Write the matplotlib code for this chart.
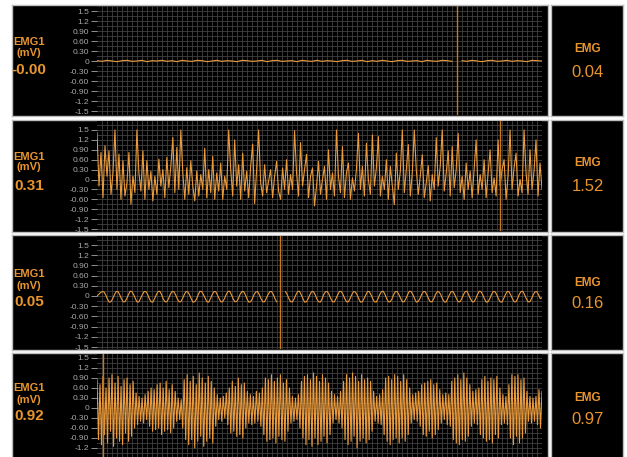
import numpy as np
import matplotlib
matplotlib.use("Agg")
import matplotlib.pyplot as plt

# ---------------------------------------------------------------- data
tick_values = [1.5, 1.2, 0.9, 0.6, 0.3, 0.0, -0.3, -0.6, -0.9, -1.2, -1.5]
tick_labels = ["1.5", "1.2", "0.90", "0.60", "0.30", "0",
               "-0.30", "-0.60", "-0.90", "-1.2", "-1.5"]

channel_label = "EMG1"
unit_label = "(mV)"
readouts = ["-0.00", "0.31", "0.05", "0.92"]
side_title = "EMG"
side_values = ["0.04", "1.52", "0.16", "0.97"]

sweep_seconds = 8.9                      # visible sweep length
cursor_times = [7.2, 8.06, 3.66, 0.12]   # sweep write position per channel

nan = float("nan")

# channel 1: resting, almost flat
trace1 = [0.01, -0.01, 0.02, 0.0, -0.02, 0.01, 0.02, -0.01, 0.0, 0.02,
          -0.02, 0.01, 0.0, 0.02, -0.01, 0.01, -0.02, 0.02, 0.0, -0.01,
          0.02, 0.01, -0.02, 0.0, 0.02, -0.01, 0.01, 0.0, -0.02, 0.02,
          0.01, -0.01, 0.0, 0.02, -0.02, 0.01, 0.02, -0.01, 0.0, 0.01,
          -0.02, 0.02, 0.0, -0.01, 0.02, -0.01, 0.01, 0.0, -0.02, 0.01,
          0.02, -0.01, 0.0, 0.02, -0.02, 0.01, -0.01, 0.02, 0.0, -0.02,
          0.01, 0.02, -0.01, 0.0, 0.01, -0.02, 0.02, 0.0, -0.01, 0.02,
          0.01, -0.01, nan, 0.01, -0.01, 0.02, 0.0, -0.02, 0.01, 0.02,
          -0.01, 0.0, 0.02, -0.01, 0.01, 0.0, -0.02, 0.02, 0.01, 0.0]

# channel 2: irregular spiking activity
trace2 = [1.42, -0.2, 0.82, -0.55, 1.02, 0.1, 0.87, -0.45, 0.2, 1.5,
          -0.3, 0.77, -0.6, 0.57, -0.5, -0.1, 0.82, -0.75, 0.1, -0.4,
          1.5, 0.2, -0.35, 0.87, -0.6, 0.57, -0.3, 0.25, -0.65, 0.1,
          -0.45, 0.62, -0.2, 0.3, -0.55, 0.67, -0.25, 0.4, 1.27, -0.4,
          0.97, -0.3, 1.5, 0.2, -0.6, 0.36, -0.45, 0.57, -0.2, -0.65,
          0.26, -0.5, 0.15, -0.3, 0.95, -0.55, 0.3, -0.4, 0.7, -0.6,
          0.2, -0.35, 0.5, -0.6, 0.1, -0.3, 1.5, 0.3, -0.5, 1.2,
          -0.2, 0.45, -0.6, 0.8, -0.35, 0.25, -0.55, 0.4, 1.07, -0.73,
          0.3, 1.5, -0.1, -0.5, 0.45, -0.4, -0.05, 0.3, -0.55, 0.1,
          0.55, -0.35, -0.6, 0.35, -0.3, 0.6, -0.45, 0.15, -0.3, 1.48,
          0.2, -0.5, 1.12, -0.2, 0.3, 0.76, -0.55, 0.1, 0.35, -0.8,
          -0.2, 0.55, -0.45, 0.0, 0.4, -0.6, 0.9, -0.3, 0.2, -0.5,
          1.5, 0.1, -0.4, 1.0, -0.55, 0.2, 0.5, -0.6, 0.05, -0.35,
          0.3, 1.4, -0.3, 0.4, -0.5, 1.1, 0.0, -0.45, 1.35, -0.2,
          0.35, 1.3, -0.5, 0.1, -0.3, 0.6, -0.6, 0.4, -0.2, -0.76,
          0.8, -0.3, 0.25, 1.5, -0.4, 0.3, 1.06, -0.5, 0.2, 1.5,
          0.3, -0.45, 0.1, 0.75, -0.55, -0.1, 0.42, -0.65, 0.15, -0.3,
          1.27, -0.2, 0.4, 1.5, -0.35, 0.2, 0.87, -0.5, 1.0, -0.25,
          0.3, 1.4, -0.4, 0.1, -0.6, 0.5, -0.3, 0.25, -0.55, 0.35,
          1.2, -0.45, 0.15, -0.3, 0.6, -0.55, 0.2, 0.9, -0.4, 0.05,
          -0.5, 1.2, -0.2, 0.3, 0.6, -0.6, 0.1, 1.5, -0.3, 0.35,
          0.8, -0.5, 0.0, -0.4, 1.5, 0.2, -0.45, 0.9, -0.3, 0.25,
          1.2, -0.5, 0.5, -0.3]

# channel 3: low-amplitude periodic interference
trace3 = [0.0, 0.05, 0.10, 0.13, 0.12, 0.03, -0.09, -0.18,
          -0.17, -0.08, 0.04, 0.13, 0.13, 0.04, -0.08, -0.17,
          -0.17, -0.08, 0.04, 0.14, 0.13, 0.04, -0.08, -0.18,
          -0.17, -0.07, 0.04, 0.13, 0.13, 0.05, -0.08, -0.17,
          -0.18, -0.08, 0.04, 0.13, 0.14, 0.04, -0.09, -0.17,
          -0.17, -0.08, 0.05, 0.13, 0.13, 0.04, -0.08, -0.17,
          -0.17, -0.08, 0.04, 0.13, 0.12, 0.04, -0.08, -0.18,
          -0.17, -0.09, 0.04, 0.14, 0.13, 0.04, -0.07, -0.17,
          -0.18, -0.08, 0.04, 0.13, 0.13, 0.03, -0.08, -0.17,
          -0.17, -0.08, 0.04, 0.13, 0.14, 0.04, -0.08, -0.17,
          -0.16, -0.08, 0.05, 0.13, 0.13, 0.04, -0.09, -0.18,
          -0.17, -0.08, 0.04, 0.12, 0.13, 0.04, -0.08, -0.17,
          -0.17, -0.07, 0.04, 0.13, 0.13, 0.05, -0.08, -0.17,
          nan, nan, nan, nan, 0.13, 0.04, -0.08, -0.17,
          -0.17, -0.08, 0.04, 0.13, 0.14, 0.04, -0.08, -0.18,
          -0.17, -0.08, 0.04, 0.13, 0.13, 0.04, -0.09, -0.17,
          -0.18, -0.08, 0.05, 0.13, 0.13, 0.04, -0.08, -0.17,
          -0.17, -0.07, 0.04, 0.14, 0.13, 0.04, -0.08, -0.17,
          -0.17, -0.08, 0.04, 0.13, 0.12, 0.04, -0.08, -0.18,
          -0.17, -0.08, 0.03, 0.13, 0.13, 0.04, -0.08, -0.17,
          -0.18, -0.08, 0.04, 0.13, 0.14, 0.05, -0.08, -0.17,
          -0.17, -0.09, 0.04, 0.13, 0.13, 0.04, -0.07, -0.17,
          -0.17, -0.08, 0.04, 0.14, 0.13, 0.04, -0.08, -0.18,
          -0.16, -0.08, 0.04, 0.13, 0.13, 0.04, -0.08, -0.17,
          -0.17, -0.08, 0.05, 0.13, 0.12, 0.04, -0.09, -0.17,
          -0.18, -0.07, 0.04, 0.13, 0.13, 0.04, -0.08, -0.17,
          -0.17, -0.08, 0.04, 0.13, 0.14, 0.03, -0.08, -0.17,
          -0.17, -0.08, 0.04, 0.14, 0.13, 0.04, -0.08, -0.18,
          -0.17, -0.09, 0.04, 0.13, 0.13, 0.05, -0.08, -0.17,
          -0.18, -0.08, 0.04, 0.13, 0.13, 0.04, -0.07, -0.17,
          -0.17, -0.08, 0.05, 0.13, 0.14, 0.04, -0.08, -0.17,
          -0.17, -0.08, 0.04, 0.12, 0.13, 0.04, -0.08, -0.05]

# channel 4: strong contraction bursts
trace4 = [0.85, -0.95, 0.7, -1.1, 0.95, -0.8, 0.6, -1.05, 0.9, -0.7,
          1.0, -1.15, 0.75, -0.9, 0.95, -1.0, 0.65, -1.1, 0.85, -0.75,
          0.9, -1.0, 0.7, -0.85, 0.8, -0.6, 0.45, -0.5, 0.35, -0.4,
          0.3, -0.45, 0.4, -0.35, 0.5, -0.55, 0.6, -0.7, 0.55, -0.65,
          0.7, -0.6, 0.75, -0.8, 0.6, -0.7, 0.8, -0.65, 0.55, -0.75,
          0.7, -0.6, 0.5, -0.4, 0.3, -0.35, 0.25, -0.6, 0.85, -0.95,
          1.0, -1.1, 0.8, -0.95, 0.95, -1.2, 0.7, -1.0, 1.05, -0.85,
          0.9, -1.15, 0.75, -1.0, 0.95, -0.9, 0.8, -1.05, 0.6, -0.55,
          0.4, -0.35, 0.3, -0.4, 0.35, -0.3, 0.45, -0.5, 0.6, -0.75,
          0.8, -0.7, 0.65, -0.85, 0.9, -0.8, 0.7, -0.9, 0.75, -0.6,
          0.5, -0.45, 0.4, -0.5, 0.35, -0.45, 0.5, -0.4, 0.45, -0.55,
          0.6, -0.8, 0.9, -1.0, 0.85, -0.95, 1.0, -0.9, 0.8, -1.05,
          0.9, -0.85, 1.0, -0.95, 0.75, -1.0, 0.85, -0.7, 0.6, -0.45,
          0.35, -0.4, 0.3, -0.35, 0.4, -0.6, 0.8, -0.9, 0.95, -1.1,
          1.0, -0.95, 0.85, -1.15, 1.05, -0.9, 0.95, -1.1, 0.8, -1.0,
          1.0, -0.85, 0.9, -1.05, 0.75, -0.8, 0.5, -0.45, 0.4, -0.35,
          0.35, -0.45, 0.5, -0.6, 0.8, -0.95, 1.0, -1.1, 0.9, -1.0,
          1.05, -0.85, 0.95, -1.2, 0.8, -1.0, 1.0, -0.9, 0.85, -1.05,
          0.9, -0.95, 0.8, -0.7, 0.5, -0.4, 0.35, -0.45, 0.4, -0.5,
          0.55, -0.8, 0.9, -1.0, 0.95, -1.1, 0.85, -0.95, 1.0, -0.9,
          0.95, -1.05, 0.8, -0.9, 1.0, -1.0, 0.85, -0.8, 0.6, -0.45,
          0.4, -0.35, 0.45, -0.4, 0.5, -0.55, 0.7, -0.8, 0.75, -0.85,
          0.8, -0.7, 0.85, -0.9, 0.7, -0.8, 0.75, -0.65, 0.55, -0.45,
          0.4, -0.35, 0.45, -0.5, 0.4, -0.55, 0.8, -0.95, 0.9, -1.05,
          1.0, -1.1, 0.85, -0.95, 1.05, -1.0, 0.9, -0.85, 0.7, -0.55,
          0.5, -0.45, 0.55, -0.5, 0.6, -0.8, 0.85, -0.9, 0.95, -1.0,
          0.8, -0.95, 0.9, -1.05, 0.85, -0.8, 0.95, -0.9, 0.6, -0.5,
          0.4, -0.45, 0.35, -0.5, 0.7, -0.9, 1.0, -1.1, 0.95, -0.85,
          1.0, -1.05, 0.85, -0.9, 0.9, -0.75, 0.5, -0.4, 0.35, -0.45,
          0.3, -0.4, 0.35, -0.5, 0.55, -0.6, 0.5]

traces = [trace1, trace2, trace3, trace4]

# ---------------------------------------------------------------- style
W, H, DPI = 627, 457, 100
FONT = ["Liberation Sans", "DejaVu Sans"]
ORANGE = "#e8952f"
TRACE = "#eb9b3c"
CURSOR = "#c77820"
GRID = "#414141"
TICK = "#a8a8a8"
EDGE = "#bdbdbd"

plt.rcParams["font.family"] = FONT

fig = plt.figure(figsize=(W / DPI, H / DPI), dpi=DPI, facecolor="white")


def px_axes(x0, y0, x1, y1, **kw):
    """Axes placed with pixel coordinates measured from the top-left."""
    return fig.add_axes([x0 / W, 1 - y1 / H, (x1 - x0) / W, (y1 - y0) / H], **kw)


def px_text(x, y, s, **kw):
    fig.text(x / W, 1 - y / H, s, ha="center", va="center", **kw)


# per channel: box top, box bottom, pixel row of +1.5 and of -1.5
rows = [
    (5, 116, 11, 111),
    (120, 232, 130, 229),
    (235, 350, 245, 347),
    (353, 458, 358, 458),
]
label_rows = [(42, 53, 70), (157, 167, 186), (274, 286, 302), (388, 400, 416)]
side_rows = [(49, 72), (163, 186), (283, 304), (398, 419)]

PLOT_X0, PLOT_X1 = 97, 542

for k, (top, bot, yp, ym) in enumerate(rows):
    # black frames
    for (x0, x1) in [(12, 548), (551, 623)]:
        box = px_axes(x0, top, x1, bot)
        box.set_facecolor("black")
        box.set_xticks([])
        box.set_yticks([])
        for sp in box.spines.values():
            sp.set_color(EDGE)
            sp.set_linewidth(1.0)

    # trace area
    ax = px_axes(PLOT_X0, top + 1, PLOT_X1, bot - 1)
    ax.set_facecolor("black")
    scale = (ym - yp) / 3.0
    zero = yp + 1.5 * scale
    ylo = (zero - (bot - 1)) / scale
    yhi = (zero - (top + 1)) / scale
    ax.set_xlim(0, sweep_seconds)
    ax.set_ylim(ylo, yhi)

    for g in np.arange(-3.0, 3.0001, 0.15):
        if ylo < g < yhi:
            ax.axhline(g, color=GRID, lw=0.6, zorder=1)
    for g in np.arange(0.1, sweep_seconds, 0.1):
        ax.axvline(g, color=GRID, lw=0.6, zorder=1)

    vals = np.array(traces[k], dtype=float)
    t = np.linspace(0, sweep_seconds, len(vals))
    ax.plot(t, vals, color=TRACE, lw=0.8, zorder=3)
    ax.axvline(cursor_times[k], color=CURSOR, lw=1.0, zorder=4)

    ax.set_xticks([])
    shown = [(v, s) for v, s in zip(tick_values, tick_labels) if ylo <= v <= yhi]
    ax.set_yticks([v for v, _ in shown])
    ax.set_yticklabels([s for _, s in shown])
    ax.tick_params(axis="y", length=4, width=0.6, color=TICK, labelcolor=TICK,
                   labelsize=6, pad=1.5)
    for sp in ax.spines.values():
        sp.set_visible(False)

    # channel captions
    ly1, ly2, ly3 = label_rows[k]
    px_text(29, ly1, channel_label, color=ORANGE, fontsize=8, fontweight="bold")
    px_text(29, ly2, unit_label, color=ORANGE, fontsize=8, fontweight="bold")
    px_text(29, ly3, readouts[k], color=ORANGE, fontsize=11, fontweight="bold")

    sy1, sy2 = side_rows[k]
    px_text(588, sy1, side_title, color=ORANGE, fontsize=8.5, fontweight="bold")
    px_text(588, sy2, side_values[k], color=ORANGE, fontsize=12)

fig.savefig("out.png", dpi=DPI, facecolor="white")
